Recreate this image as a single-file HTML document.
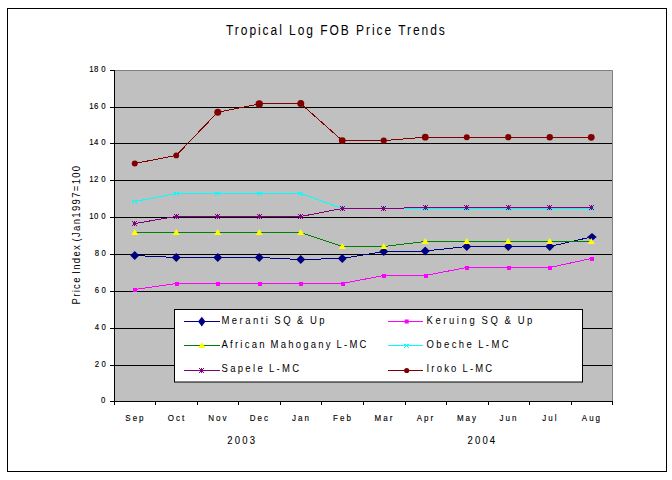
<!DOCTYPE html>
<html><head><meta charset="utf-8"><style>
html,body{margin:0;padding:0;background:#fff;width:672px;height:480px;overflow:hidden}
svg{display:block}
text{font-family:"Liberation Sans",sans-serif;fill:#000}
</style></head><body>
<svg width="672" height="480" viewBox="0 0 672 480">
<rect x="114" y="70" width="498.5" height="331" fill="#C0C0C0"/>
<line x1="114" y1="107.5" x2="612" y2="107.5" stroke="#000" stroke-width="1"/>
<line x1="114" y1="143.5" x2="612" y2="143.5" stroke="#000" stroke-width="1"/>
<line x1="114" y1="180.5" x2="612" y2="180.5" stroke="#000" stroke-width="1"/>
<line x1="114" y1="217.5" x2="612" y2="217.5" stroke="#000" stroke-width="1"/>
<line x1="114" y1="254.5" x2="612" y2="254.5" stroke="#000" stroke-width="1"/>
<line x1="114" y1="291.5" x2="612" y2="291.5" stroke="#000" stroke-width="1"/>
<line x1="114" y1="328.5" x2="612" y2="328.5" stroke="#000" stroke-width="1"/>
<line x1="114" y1="365.5" x2="612" y2="365.5" stroke="#000" stroke-width="1"/>
<path d="M114,70.5H612.5V401" stroke="#808080" stroke-width="1" fill="none"/>
<line x1="114.5" y1="70" x2="114.5" y2="402" stroke="#000" stroke-width="1"/>
<line x1="110" y1="401.5" x2="613" y2="401.5" stroke="#000" stroke-width="1"/>
<line x1="110" y1="70.5" x2="114" y2="70.5" stroke="#000" stroke-width="1"/>
<line x1="110" y1="107.5" x2="114" y2="107.5" stroke="#000" stroke-width="1"/>
<line x1="110" y1="143.5" x2="114" y2="143.5" stroke="#000" stroke-width="1"/>
<line x1="110" y1="180.5" x2="114" y2="180.5" stroke="#000" stroke-width="1"/>
<line x1="110" y1="217.5" x2="114" y2="217.5" stroke="#000" stroke-width="1"/>
<line x1="110" y1="254.5" x2="114" y2="254.5" stroke="#000" stroke-width="1"/>
<line x1="110" y1="291.5" x2="114" y2="291.5" stroke="#000" stroke-width="1"/>
<line x1="110" y1="328.5" x2="114" y2="328.5" stroke="#000" stroke-width="1"/>
<line x1="110" y1="365.5" x2="114" y2="365.5" stroke="#000" stroke-width="1"/>
<line x1="114.5" y1="401" x2="114.5" y2="405" stroke="#000" stroke-width="1"/>
<line x1="155.5" y1="401" x2="155.5" y2="405" stroke="#000" stroke-width="1"/>
<line x1="197.5" y1="401" x2="197.5" y2="405" stroke="#000" stroke-width="1"/>
<line x1="238.5" y1="401" x2="238.5" y2="405" stroke="#000" stroke-width="1"/>
<line x1="280.5" y1="401" x2="280.5" y2="405" stroke="#000" stroke-width="1"/>
<line x1="321.5" y1="401" x2="321.5" y2="405" stroke="#000" stroke-width="1"/>
<line x1="363.5" y1="401" x2="363.5" y2="405" stroke="#000" stroke-width="1"/>
<line x1="405.5" y1="401" x2="405.5" y2="405" stroke="#000" stroke-width="1"/>
<line x1="446.5" y1="401" x2="446.5" y2="405" stroke="#000" stroke-width="1"/>
<line x1="488.5" y1="401" x2="488.5" y2="405" stroke="#000" stroke-width="1"/>
<line x1="529.5" y1="401" x2="529.5" y2="405" stroke="#000" stroke-width="1"/>
<line x1="571.5" y1="401" x2="571.5" y2="405" stroke="#000" stroke-width="1"/>
<line x1="612.5" y1="401" x2="612.5" y2="405" stroke="#000" stroke-width="1"/>
<polyline points="134.75,255.5 176.25,257.5 217.75,257.5 259.25,257.5 300.75,259.5 342.25,258.5 383.75,251.5 425.25,251 466.75,246.5 508.25,246.5 549.75,246.5 591.25,237" fill="none" stroke="#000080" stroke-width="1" shape-rendering="crispEdges"/>
<polygon points="134.75,251.0 139.25,255.5 134.75,260.0 130.25,255.5" fill="#000080"/>
<polygon points="176.25,253.0 180.75,257.5 176.25,262.0 171.75,257.5" fill="#000080"/>
<polygon points="217.75,253.0 222.25,257.5 217.75,262.0 213.25,257.5" fill="#000080"/>
<polygon points="259.25,253.0 263.75,257.5 259.25,262.0 254.75,257.5" fill="#000080"/>
<polygon points="300.75,255.0 305.25,259.5 300.75,264.0 296.25,259.5" fill="#000080"/>
<polygon points="342.25,254.0 346.75,258.5 342.25,263.0 337.75,258.5" fill="#000080"/>
<polygon points="383.75,247.0 388.25,251.5 383.75,256.0 379.25,251.5" fill="#000080"/>
<polygon points="425.25,246.5 429.75,251 425.25,255.5 420.75,251" fill="#000080"/>
<polygon points="466.75,242.0 471.25,246.5 466.75,251.0 462.25,246.5" fill="#000080"/>
<polygon points="508.25,242.0 512.75,246.5 508.25,251.0 503.75,246.5" fill="#000080"/>
<polygon points="549.75,242.0 554.25,246.5 549.75,251.0 545.25,246.5" fill="#000080"/>
<polygon points="592,233 596.7,237 592,241 587.3,237" fill="#000080"/>
<polyline points="134.75,289.5 176.25,283.5 217.75,283.5 259.25,283.5 300.75,283.5 342.25,283.5 383.75,275.5 425.25,275.5 466.75,267.5 508.25,267.5 549.75,267.5 591.25,258.5" fill="none" stroke="#FF00FF" stroke-width="1" shape-rendering="crispEdges"/>
<rect x="133" y="288" width="4" height="4" fill="#FF00FF" shape-rendering="crispEdges"/>
<rect x="175" y="282" width="4" height="4" fill="#FF00FF" shape-rendering="crispEdges"/>
<rect x="216" y="282" width="4" height="4" fill="#FF00FF" shape-rendering="crispEdges"/>
<rect x="258" y="282" width="4" height="4" fill="#FF00FF" shape-rendering="crispEdges"/>
<rect x="299" y="282" width="4" height="4" fill="#FF00FF" shape-rendering="crispEdges"/>
<rect x="341" y="282" width="4" height="4" fill="#FF00FF" shape-rendering="crispEdges"/>
<rect x="382" y="274" width="4" height="4" fill="#FF00FF" shape-rendering="crispEdges"/>
<rect x="424" y="274" width="4" height="4" fill="#FF00FF" shape-rendering="crispEdges"/>
<rect x="465" y="266" width="4" height="4" fill="#FF00FF" shape-rendering="crispEdges"/>
<rect x="507" y="266" width="4" height="4" fill="#FF00FF" shape-rendering="crispEdges"/>
<rect x="548" y="266" width="4" height="4" fill="#FF00FF" shape-rendering="crispEdges"/>
<rect x="590" y="257" width="4" height="4" fill="#FF00FF" shape-rendering="crispEdges"/>
<polyline points="134.75,232.5 176.25,232.5 217.75,232.5 259.25,232.5 300.75,232.5 342.25,246.5 383.75,246.5 425.25,241.5 466.75,241.5 508.25,241.5 549.75,241.5 591.25,241.5" fill="none" stroke="#008000" stroke-width="1" shape-rendering="crispEdges"/>
<polygon points="134.75,229.0 138.25,235.0 131.25,235.0" fill="#FFFF00"/>
<polygon points="176.25,229.0 179.75,235.0 172.75,235.0" fill="#FFFF00"/>
<polygon points="217.75,229.0 221.25,235.0 214.25,235.0" fill="#FFFF00"/>
<polygon points="259.25,229.0 262.75,235.0 255.75,235.0" fill="#FFFF00"/>
<polygon points="300.75,229.0 304.25,235.0 297.25,235.0" fill="#FFFF00"/>
<polygon points="342.25,243.0 345.75,249.0 338.75,249.0" fill="#FFFF00"/>
<polygon points="383.75,243.0 387.25,249.0 380.25,249.0" fill="#FFFF00"/>
<polygon points="425.25,238.0 428.75,244.0 421.75,244.0" fill="#FFFF00"/>
<polygon points="466.75,238.0 470.25,244.0 463.25,244.0" fill="#FFFF00"/>
<polygon points="508.25,238.0 511.75,244.0 504.75,244.0" fill="#FFFF00"/>
<polygon points="549.75,238.0 553.25,244.0 546.25,244.0" fill="#FFFF00"/>
<polygon points="591.25,238.0 594.75,244.0 587.75,244.0" fill="#FFFF00"/>
<polyline points="134.75,201.5 176.25,193.5 217.75,193.5 259.25,193.5 300.75,193.5 342.25,208.5 383.75,208.5 425.25,208.5 466.75,208.5 508.25,208.5 549.75,208.5 591.25,208.5" fill="none" stroke="#00FFFF" stroke-width="1" shape-rendering="crispEdges"/>
<path d="M132,200h1v1h-1zM133,200h1v1h-1zM135,200h1v1h-1zM136,200h1v1h-1zM133,201h1v1h-1zM135,201h1v1h-1zM133,202h1v1h-1zM135,202h1v1h-1zM132,203h1v1h-1zM136,203h1v1h-1z" fill="#00FFFF" shape-rendering="crispEdges"/>
<path d="M174,192h1v1h-1zM175,192h1v1h-1zM177,192h1v1h-1zM178,192h1v1h-1zM175,193h1v1h-1zM177,193h1v1h-1zM175,194h1v1h-1zM177,194h1v1h-1zM174,195h1v1h-1zM178,195h1v1h-1z" fill="#00FFFF" shape-rendering="crispEdges"/>
<path d="M215,192h1v1h-1zM216,192h1v1h-1zM218,192h1v1h-1zM219,192h1v1h-1zM216,193h1v1h-1zM218,193h1v1h-1zM216,194h1v1h-1zM218,194h1v1h-1zM215,195h1v1h-1zM219,195h1v1h-1z" fill="#00FFFF" shape-rendering="crispEdges"/>
<path d="M257,192h1v1h-1zM258,192h1v1h-1zM260,192h1v1h-1zM261,192h1v1h-1zM258,193h1v1h-1zM260,193h1v1h-1zM258,194h1v1h-1zM260,194h1v1h-1zM257,195h1v1h-1zM261,195h1v1h-1z" fill="#00FFFF" shape-rendering="crispEdges"/>
<path d="M298,192h1v1h-1zM299,192h1v1h-1zM301,192h1v1h-1zM302,192h1v1h-1zM299,193h1v1h-1zM301,193h1v1h-1zM299,194h1v1h-1zM301,194h1v1h-1zM298,195h1v1h-1zM302,195h1v1h-1z" fill="#00FFFF" shape-rendering="crispEdges"/>
<path d="M340,207h1v1h-1zM341,207h1v1h-1zM343,207h1v1h-1zM344,207h1v1h-1zM341,208h1v1h-1zM343,208h1v1h-1zM341,209h1v1h-1zM343,209h1v1h-1zM340,210h1v1h-1zM344,210h1v1h-1z" fill="#00FFFF" shape-rendering="crispEdges"/>
<path d="M381,207h1v1h-1zM382,207h1v1h-1zM384,207h1v1h-1zM385,207h1v1h-1zM382,208h1v1h-1zM384,208h1v1h-1zM382,209h1v1h-1zM384,209h1v1h-1zM381,210h1v1h-1zM385,210h1v1h-1z" fill="#00FFFF" shape-rendering="crispEdges"/>
<path d="M423,207h1v1h-1zM424,207h1v1h-1zM426,207h1v1h-1zM427,207h1v1h-1zM424,208h1v1h-1zM426,208h1v1h-1zM424,209h1v1h-1zM426,209h1v1h-1zM423,210h1v1h-1zM427,210h1v1h-1z" fill="#00FFFF" shape-rendering="crispEdges"/>
<path d="M464,207h1v1h-1zM465,207h1v1h-1zM467,207h1v1h-1zM468,207h1v1h-1zM465,208h1v1h-1zM467,208h1v1h-1zM465,209h1v1h-1zM467,209h1v1h-1zM464,210h1v1h-1zM468,210h1v1h-1z" fill="#00FFFF" shape-rendering="crispEdges"/>
<path d="M506,207h1v1h-1zM507,207h1v1h-1zM509,207h1v1h-1zM510,207h1v1h-1zM507,208h1v1h-1zM509,208h1v1h-1zM507,209h1v1h-1zM509,209h1v1h-1zM506,210h1v1h-1zM510,210h1v1h-1z" fill="#00FFFF" shape-rendering="crispEdges"/>
<path d="M547,207h1v1h-1zM548,207h1v1h-1zM550,207h1v1h-1zM551,207h1v1h-1zM548,208h1v1h-1zM550,208h1v1h-1zM548,209h1v1h-1zM550,209h1v1h-1zM547,210h1v1h-1zM551,210h1v1h-1z" fill="#00FFFF" shape-rendering="crispEdges"/>
<path d="M589,207h1v1h-1zM590,207h1v1h-1zM592,207h1v1h-1zM593,207h1v1h-1zM590,208h1v1h-1zM592,208h1v1h-1zM590,209h1v1h-1zM592,209h1v1h-1zM589,210h1v1h-1zM593,210h1v1h-1z" fill="#00FFFF" shape-rendering="crispEdges"/>
<polyline points="134.75,223.5 176.25,216.5 217.75,216.5 259.25,216.5 300.75,216.5 342.25,208.5 383.75,208.5 425.25,207.5 466.75,207.5 508.25,207.5 549.75,207.5 591.25,207.5" fill="none" stroke="#800080" stroke-width="1" shape-rendering="crispEdges"/>
<path d="M132,221h1v1h-1zM134,221h1v1h-1zM136,221h1v1h-1zM133,222h1v1h-1zM134,222h1v1h-1zM135,222h1v1h-1zM133,223h1v1h-1zM134,223h1v1h-1zM135,223h1v1h-1zM133,224h1v1h-1zM134,224h1v1h-1zM135,224h1v1h-1zM132,225h1v1h-1zM134,225h1v1h-1zM136,225h1v1h-1z" fill="#800080" shape-rendering="crispEdges"/>
<path d="M174,214h1v1h-1zM176,214h1v1h-1zM178,214h1v1h-1zM175,215h1v1h-1zM176,215h1v1h-1zM177,215h1v1h-1zM175,216h1v1h-1zM176,216h1v1h-1zM177,216h1v1h-1zM175,217h1v1h-1zM176,217h1v1h-1zM177,217h1v1h-1zM174,218h1v1h-1zM176,218h1v1h-1zM178,218h1v1h-1z" fill="#800080" shape-rendering="crispEdges"/>
<path d="M215,214h1v1h-1zM217,214h1v1h-1zM219,214h1v1h-1zM216,215h1v1h-1zM217,215h1v1h-1zM218,215h1v1h-1zM216,216h1v1h-1zM217,216h1v1h-1zM218,216h1v1h-1zM216,217h1v1h-1zM217,217h1v1h-1zM218,217h1v1h-1zM215,218h1v1h-1zM217,218h1v1h-1zM219,218h1v1h-1z" fill="#800080" shape-rendering="crispEdges"/>
<path d="M257,214h1v1h-1zM259,214h1v1h-1zM261,214h1v1h-1zM258,215h1v1h-1zM259,215h1v1h-1zM260,215h1v1h-1zM258,216h1v1h-1zM259,216h1v1h-1zM260,216h1v1h-1zM258,217h1v1h-1zM259,217h1v1h-1zM260,217h1v1h-1zM257,218h1v1h-1zM259,218h1v1h-1zM261,218h1v1h-1z" fill="#800080" shape-rendering="crispEdges"/>
<path d="M298,214h1v1h-1zM300,214h1v1h-1zM302,214h1v1h-1zM299,215h1v1h-1zM300,215h1v1h-1zM301,215h1v1h-1zM299,216h1v1h-1zM300,216h1v1h-1zM301,216h1v1h-1zM299,217h1v1h-1zM300,217h1v1h-1zM301,217h1v1h-1zM298,218h1v1h-1zM300,218h1v1h-1zM302,218h1v1h-1z" fill="#800080" shape-rendering="crispEdges"/>
<path d="M340,206h1v1h-1zM342,206h1v1h-1zM344,206h1v1h-1zM341,207h1v1h-1zM342,207h1v1h-1zM343,207h1v1h-1zM341,208h1v1h-1zM342,208h1v1h-1zM343,208h1v1h-1zM341,209h1v1h-1zM342,209h1v1h-1zM343,209h1v1h-1zM340,210h1v1h-1zM342,210h1v1h-1zM344,210h1v1h-1z" fill="#800080" shape-rendering="crispEdges"/>
<path d="M381,206h1v1h-1zM383,206h1v1h-1zM385,206h1v1h-1zM382,207h1v1h-1zM383,207h1v1h-1zM384,207h1v1h-1zM382,208h1v1h-1zM383,208h1v1h-1zM384,208h1v1h-1zM382,209h1v1h-1zM383,209h1v1h-1zM384,209h1v1h-1zM381,210h1v1h-1zM383,210h1v1h-1zM385,210h1v1h-1z" fill="#800080" shape-rendering="crispEdges"/>
<path d="M423,205h1v1h-1zM425,205h1v1h-1zM427,205h1v1h-1zM424,206h1v1h-1zM425,206h1v1h-1zM426,206h1v1h-1zM424,207h1v1h-1zM425,207h1v1h-1zM426,207h1v1h-1zM424,208h1v1h-1zM425,208h1v1h-1zM426,208h1v1h-1zM423,209h1v1h-1zM425,209h1v1h-1zM427,209h1v1h-1z" fill="#800080" shape-rendering="crispEdges"/>
<path d="M464,205h1v1h-1zM466,205h1v1h-1zM468,205h1v1h-1zM465,206h1v1h-1zM466,206h1v1h-1zM467,206h1v1h-1zM465,207h1v1h-1zM466,207h1v1h-1zM467,207h1v1h-1zM465,208h1v1h-1zM466,208h1v1h-1zM467,208h1v1h-1zM464,209h1v1h-1zM466,209h1v1h-1zM468,209h1v1h-1z" fill="#800080" shape-rendering="crispEdges"/>
<path d="M506,205h1v1h-1zM508,205h1v1h-1zM510,205h1v1h-1zM507,206h1v1h-1zM508,206h1v1h-1zM509,206h1v1h-1zM507,207h1v1h-1zM508,207h1v1h-1zM509,207h1v1h-1zM507,208h1v1h-1zM508,208h1v1h-1zM509,208h1v1h-1zM506,209h1v1h-1zM508,209h1v1h-1zM510,209h1v1h-1z" fill="#800080" shape-rendering="crispEdges"/>
<path d="M547,205h1v1h-1zM549,205h1v1h-1zM551,205h1v1h-1zM548,206h1v1h-1zM549,206h1v1h-1zM550,206h1v1h-1zM548,207h1v1h-1zM549,207h1v1h-1zM550,207h1v1h-1zM548,208h1v1h-1zM549,208h1v1h-1zM550,208h1v1h-1zM547,209h1v1h-1zM549,209h1v1h-1zM551,209h1v1h-1z" fill="#800080" shape-rendering="crispEdges"/>
<path d="M589,205h1v1h-1zM591,205h1v1h-1zM593,205h1v1h-1zM590,206h1v1h-1zM591,206h1v1h-1zM592,206h1v1h-1zM590,207h1v1h-1zM591,207h1v1h-1zM592,207h1v1h-1zM590,208h1v1h-1zM591,208h1v1h-1zM592,208h1v1h-1zM589,209h1v1h-1zM591,209h1v1h-1zM593,209h1v1h-1z" fill="#800080" shape-rendering="crispEdges"/>
<polyline points="134.75,163.5 176.25,155.4 217.75,112.2 259.25,103.9 300.75,103.6 342.25,140.6 383.75,140.6 425.25,137.2 466.75,137.2 508.25,137.2 549.75,137.3 591.25,137.3" fill="none" stroke="#800000" stroke-width="1" shape-rendering="crispEdges"/>
<circle cx="134.75" cy="163.5" r="3" fill="#800000"/>
<circle cx="176.25" cy="155.4" r="2.9" fill="#800000"/>
<circle cx="217.75" cy="112.2" r="3.5" fill="#800000"/>
<circle cx="259.25" cy="103.9" r="3.7" fill="#800000"/>
<circle cx="300.75" cy="103.6" r="3.5" fill="#800000"/>
<circle cx="342.25" cy="140.6" r="3.4" fill="#800000"/>
<circle cx="383.75" cy="140.6" r="3.1" fill="#800000"/>
<circle cx="425.25" cy="137.2" r="3.4" fill="#800000"/>
<circle cx="466.75" cy="137.2" r="3" fill="#800000"/>
<circle cx="508.25" cy="137.2" r="3.1" fill="#800000"/>
<circle cx="549.75" cy="137.3" r="3.2" fill="#800000"/>
<circle cx="591.25" cy="137.3" r="3.4" fill="#800000"/>
<rect x="174.5" y="309.5" width="408" height="72.5" fill="#FFF" stroke="#000" stroke-width="1"/>
<line x1="184" y1="321.5" x2="220" y2="321.5" stroke="#000080" stroke-width="1"/>
<polygon points="201.8,316.8 205.5,321.5 201.8,326.5 198.10000000000002,321.5" fill="#000080"/>
<text transform="translate(221.5,324.0) scale(1,1.155)" font-size="9.5" letter-spacing="2.45" word-spacing="-1">Meranti SQ &amp; Up</text>
<line x1="388" y1="321.5" x2="423" y2="321.5" stroke="#FF00FF" stroke-width="1"/>
<rect x="404.7" y="319.5" width="4" height="4" fill="#FF00FF"/>
<text transform="translate(426.5,324.0) scale(1,1.155)" font-size="9.5" letter-spacing="2.58" word-spacing="-1">Keruing SQ &amp; Up</text>
<line x1="184" y1="345.5" x2="220" y2="345.5" stroke="#008000" stroke-width="1"/>
<polygon points="201.8,342.0 205.3,348.0 198.3,348.0" fill="#FFFF00"/>
<text transform="translate(221.5,348.0) scale(1,1.155)" font-size="9.5" letter-spacing="2.23" word-spacing="-1">African Mahogany L-MC</text>
<line x1="388" y1="345.5" x2="423" y2="345.5" stroke="#00FFFF" stroke-width="1"/>
<path d="M404,344h1v1h-1zM405,344h1v1h-1zM407,344h1v1h-1zM408,344h1v1h-1zM405,345h1v1h-1zM407,345h1v1h-1zM405,346h1v1h-1zM407,346h1v1h-1zM404,347h1v1h-1zM408,347h1v1h-1z" fill="#00FFFF" shape-rendering="crispEdges"/>
<text transform="translate(426.5,348.0) scale(1,1.155)" font-size="9.5" letter-spacing="2.4" word-spacing="-1">Obeche L-MC</text>
<line x1="184" y1="370.5" x2="220" y2="370.5" stroke="#800080" stroke-width="1"/>
<path d="M199,368h1v1h-1zM201,368h1v1h-1zM203,368h1v1h-1zM200,369h1v1h-1zM201,369h1v1h-1zM202,369h1v1h-1zM200,370h1v1h-1zM201,370h1v1h-1zM202,370h1v1h-1zM200,371h1v1h-1zM201,371h1v1h-1zM202,371h1v1h-1zM199,372h1v1h-1zM201,372h1v1h-1zM203,372h1v1h-1z" fill="#800080" shape-rendering="crispEdges"/>
<text transform="translate(221.5,372.0) scale(1,1.155)" font-size="9.5" letter-spacing="2.33" word-spacing="-1">Sapele L-MC</text>
<line x1="388" y1="370.5" x2="423" y2="370.5" stroke="#800000" stroke-width="1"/>
<circle cx="406.7" cy="370.5" r="2.6" fill="#800000"/>
<text transform="translate(426.5,372.0) scale(1,1.155)" font-size="9.5" letter-spacing="2.2" word-spacing="-1">Iroko L-MC</text>
<text transform="translate(0,71.6) scale(1,1.1)" x="89.25 93.90 101.20" y="0" font-size="7.8" stroke="#000" stroke-width="0.12">180</text>
<text transform="translate(0,108.6) scale(1,1.1)" x="89.25 93.90 101.20" y="0" font-size="7.8" stroke="#000" stroke-width="0.12">160</text>
<text transform="translate(0,144.6) scale(1,1.1)" x="89.25 93.90 101.20" y="0" font-size="7.8" stroke="#000" stroke-width="0.12">140</text>
<text transform="translate(0,181.6) scale(1,1.1)" x="89.25 93.90 101.20" y="0" font-size="7.8" stroke="#000" stroke-width="0.12">120</text>
<text transform="translate(0,218.6) scale(1,1.1)" x="89.25 93.90 101.20" y="0" font-size="7.8" stroke="#000" stroke-width="0.12">100</text>
<text transform="translate(0,255.6) scale(1,1.1)" x="94.70 101.50" y="0" font-size="7.8" stroke="#000" stroke-width="0.12">80</text>
<text transform="translate(0,292.6) scale(1,1.1)" x="94.70 101.50" y="0" font-size="7.8" stroke="#000" stroke-width="0.12">60</text>
<text transform="translate(0,329.6) scale(1,1.1)" x="94.70 101.50" y="0" font-size="7.8" stroke="#000" stroke-width="0.12">40</text>
<text transform="translate(0,366.6) scale(1,1.1)" x="94.70 101.50" y="0" font-size="7.8" stroke="#000" stroke-width="0.12">20</text>
<text transform="translate(0,402.6) scale(1,1.1)" x="101.00" y="0" font-size="7.8" stroke="#000" stroke-width="0.12">0</text>
<text transform="translate(135.45,421) scale(1,1.2)" font-size="8" letter-spacing="2.0" text-anchor="middle" stroke="#000" stroke-width="0.12">Sep</text>
<text transform="translate(176.95,421) scale(1,1.2)" font-size="8" letter-spacing="2.0" text-anchor="middle" stroke="#000" stroke-width="0.12">Oct</text>
<text transform="translate(218.45,421) scale(1,1.2)" font-size="8" letter-spacing="2.0" text-anchor="middle" stroke="#000" stroke-width="0.12">Nov</text>
<text transform="translate(259.95,421) scale(1,1.2)" font-size="8" letter-spacing="2.0" text-anchor="middle" stroke="#000" stroke-width="0.12">Dec</text>
<text transform="translate(301.45,421) scale(1,1.2)" font-size="8" letter-spacing="2.0" text-anchor="middle" stroke="#000" stroke-width="0.12">Jan</text>
<text transform="translate(342.95,421) scale(1,1.2)" font-size="8" letter-spacing="2.0" text-anchor="middle" stroke="#000" stroke-width="0.12">Feb</text>
<text transform="translate(384.45,421) scale(1,1.2)" font-size="8" letter-spacing="2.0" text-anchor="middle" stroke="#000" stroke-width="0.12">Mar</text>
<text transform="translate(425.95,421) scale(1,1.2)" font-size="8" letter-spacing="2.0" text-anchor="middle" stroke="#000" stroke-width="0.12">Apr</text>
<text transform="translate(467.45,421) scale(1,1.2)" font-size="8" letter-spacing="2.0" text-anchor="middle" stroke="#000" stroke-width="0.12">May</text>
<text transform="translate(508.95,421) scale(1,1.2)" font-size="8" letter-spacing="2.0" text-anchor="middle" stroke="#000" stroke-width="0.12">Jun</text>
<text transform="translate(550.45,421) scale(1,1.2)" font-size="8" letter-spacing="2.0" text-anchor="middle" stroke="#000" stroke-width="0.12">Jul</text>
<text transform="translate(591.95,421) scale(1,1.2)" font-size="8" letter-spacing="2.0" text-anchor="middle" stroke="#000" stroke-width="0.12">Aug</text>
<text transform="translate(242.2,444) scale(1,1.17)" font-size="9.5" letter-spacing="2.2" text-anchor="middle" stroke="#000" stroke-width="0.08">2003</text>
<text transform="translate(482.4,444) scale(1,1.17)" font-size="9.5" letter-spacing="2.2" text-anchor="middle" stroke="#000" stroke-width="0.08">2004</text>
<text transform="translate(226,35) scale(1,1.15)" font-size="12" letter-spacing="1.95">Tropical Log FOB Price Trends</text>
<text transform="translate(80,304.5) rotate(-90) scale(1,1.155)" font-size="9.5" letter-spacing="1.33" word-spacing="-1.5">Price Index (Jan1997=100</text>
<rect x="7.5" y="8.5" width="659" height="463" fill="none" stroke="#000" stroke-width="1"/>
</svg>
</body></html>
